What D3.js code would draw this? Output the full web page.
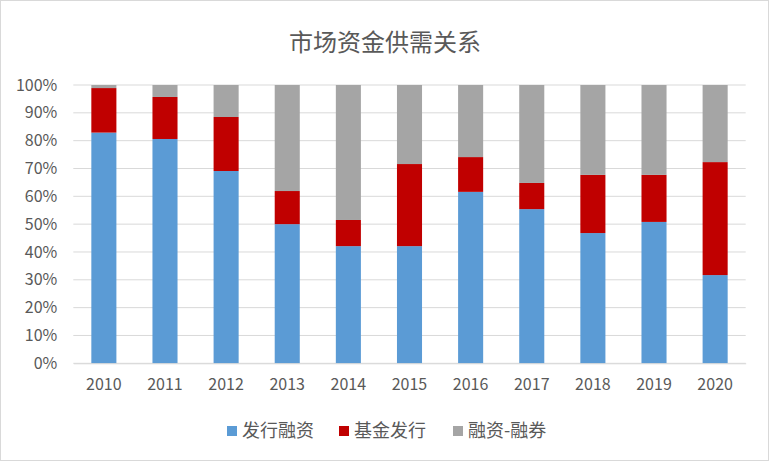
<!DOCTYPE html>
<html><head><meta charset="utf-8">
<script src="https://cdn.jsdelivr.net/npm/d3@7"></script>
<style>body{margin:0;background:#fff}svg{display:block}</style>
</head><body><svg id="c" width="770" height="462"></svg>
<script>
const years = ["2010","2011","2012","2013","2014","2015","2016","2017","2018","2019","2020"];
const seriesNames = ["发行融资","基金发行","融资-融券"];
const issueFinancing = [82.9, 80.6, 69.1, 50.0, 42.1, 42.1, 61.6, 55.4, 46.8, 50.8, 31.7];
const fundIssuance   = [16.0, 15.1, 19.4, 11.9,  9.4, 29.5, 12.5,  9.4, 20.9, 16.9, 40.6];
const marginNet      = [ 1.1,  4.3, 11.5, 38.1, 48.5, 28.4, 25.9, 35.2, 32.3, 32.3, 27.7];
const yTicks = [0,10,20,30,40,50,60,70,80,90,100];
const colors = ["#5b9bd5","#c00000","#a5a5a5"];
const title = "市场资金供需关系";

(function(){
const svg = d3.select("#c");
const font = "'Noto Sans CJK SC','Noto Sans',sans-serif";
svg.append("rect").attr("x",0.5).attr("y",0.5).attr("width",768).attr("height",460)
  .attr("fill","#fff").attr("stroke","#d9d9d9");

const pl=73.3, pr=745.7, pt=85, pb=363.3;
const x = d3.scaleBand().domain(years).range([pl,pr]).paddingInner(0.59).paddingOuter(0.295);
const y = d3.scaleLinear().domain([0,100]).range([pb,pt]);

const rows = years.map((yr,i)=>({year:yr,s0:issueFinancing[i],s1:fundIssuance[i],s2:marginNet[i]}));
const stack = d3.stack().keys(["s0","s1","s2"])(rows);

svg.append("g").selectAll("line").data(yTicks).join("line")
  .attr("x1",pl).attr("x2",pr).attr("y1",d=>y(d)).attr("y2",d=>y(d))
  .attr("stroke","#d9d9d9").attr("stroke-width",1);

const ya = svg.append("g").attr("transform",`translate(${pl},0)`)
  .call(d3.axisLeft(y).tickValues(yTicks).tickFormat(d=>d+"%").tickSize(0).tickPadding(16));
ya.select(".domain").remove();
ya.selectAll("text").attr("font-family",font).attr("font-size",16).attr("fill","#595959");

svg.append("g").selectAll("g").data(stack).join("g").attr("fill",(d,i)=>colors[i])
  .selectAll("rect").data(d=>d).join("rect")
  .attr("x",d=>x(d.data.year)).attr("width",x.bandwidth())
  .attr("y",d=>y(d[1])).attr("height",d=>y(d[0])-y(d[1]));

const xa = svg.append("g").attr("transform",`translate(0,${pb})`)
  .call(d3.axisBottom(x).tickSize(0).tickPadding(15));
xa.select(".domain").attr("stroke","#d9d9d9");
xa.selectAll("text").attr("font-family",font).attr("font-size",16).attr("fill","#595959");

svg.append("text").attr("x",385).attr("y",51).attr("text-anchor","middle")
  .attr("font-family",font).attr("font-size",24).attr("fill","#595959").text(title);

const legX = [227,339,453];
const leg = svg.append("g").selectAll("g").data(seriesNames).join("g")
  .attr("transform",(d,i)=>`translate(${legX[i]},431)`);
leg.append("rect").attr("x",0).attr("y",-5).attr("width",10).attr("height",10).attr("fill",(d,i)=>colors[i]);
leg.append("text").attr("x",15).attr("y",0).attr("dy","0.35em")
  .attr("font-family",font).attr("font-size",18).attr("fill","#595959").text(d=>d);
})();
</script></body></html>
